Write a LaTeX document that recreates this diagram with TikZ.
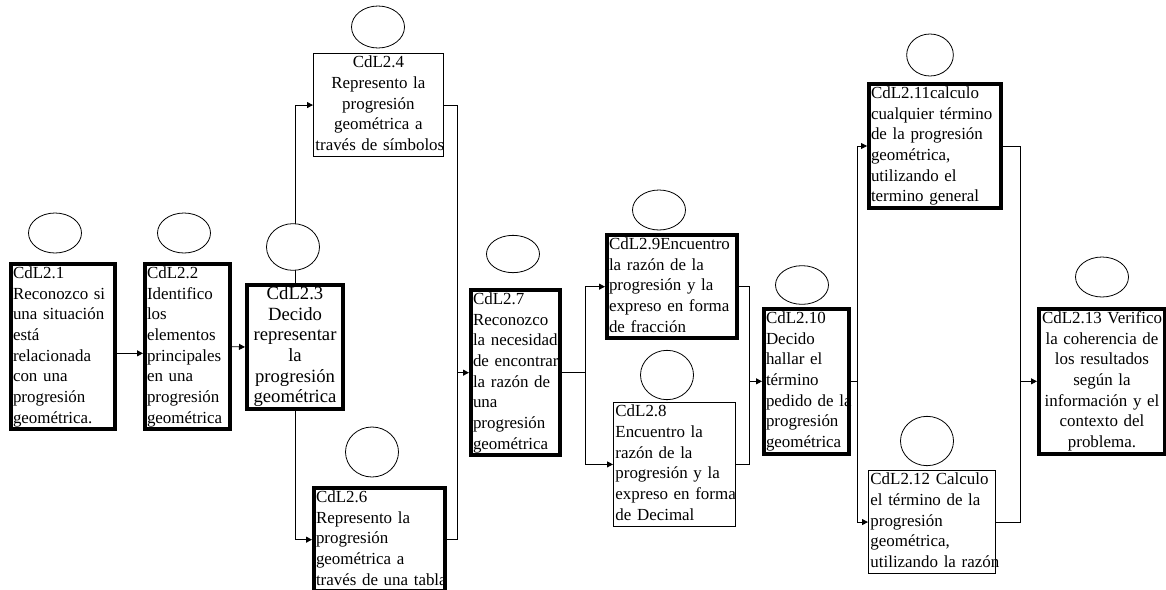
\documentclass[tikz,border=0pt]{standalone}
\usepackage{fontspec}
\setmainfont{Liberation Serif}
\usetikzlibrary{arrows.meta,shapes.geometric}

\tikzset{
  cdl/.style={draw, line width=0.6pt, anchor=north west, inner xsep=1.5pt, inner ysep=0pt,
    align=left, font=\fontsize{12.7}{15.5}\selectfont,
    execute at begin node={\hyphenpenalty=10000\exhyphenpenalty=10000\strut},
    execute at end node=\strut},
  cdlbold/.style={cdl, line width=3pt},
  dot/.style={draw, ellipse, fill=white, line width=0.6pt, minimum width=39.75pt, inner sep=0pt},
  link/.style={line width=0.6pt},
  arr/.style={link, -{Triangle[length=4.5pt,width=4.5pt]}}
}

\begin{document}
\begin{tikzpicture}[x=0.75pt, y=-0.75pt]
  \useasboundingbox (0,0) rectangle (1166,589);
  \coordinate (J1) at (457,0);
  \coordinate (J2) at (585,0);
  \coordinate (J3) at (749,0);
  \coordinate (J4) at (857,0);
  \coordinate (J5) at (1020,0);

  \node[cdlbold, text width=75pt] (B1) at (9,262)
    {CdL2.1\\Reconozco si\\una situación\\está\\relacionada\\con una\\progresión\\geométrica.};
  \node[cdlbold, text width=60.75pt] (B2) at (143,262)
    {CdL2.2\\Identifico\\los\\elementos\\principales\\en una\\progresión\\geométrica};
  \node[cdlbold, text width=69pt, align=center, font=\fontsize{14}{15.5}\selectfont] (B3) at (245,283)
    {CdL2.3\\Decido\\representar\\la\\progresión\\geométrica};
  \node[cdl, text width=94.5pt, align=center] (B4) at (313,53)
    {CdL2.4\\Represento la\\progresión\\geométrica a\\través~de~símbolos};
  \node[cdlbold, text width=95.25pt] (B6) at (312,486)
    {CdL2.6\\Represento la\\progresión\\geométrica a\\través~de~una~tabla};
  \node[cdlbold, text width=63.75pt] (B7) at (469,288)
    {CdL2.7\\Reconozco\\la~necesidad\\de~encontrar\\la razón de\\una\\progresión\\geométrica};
  \node[cdlbold, text width=94.5pt] (B9) at (605,233)
    {CdL2.9Encuentro\\la razón de la\\progresión y la\\expreso~en~forma\\de fracción};
  \node[cdl, text width=88.5pt] (B8) at (613,402)
    {CdL2.8\\Encuentro la\\razón de la\\progresión y la\\expreso~en~forma\\de Decimal};
  \node[cdlbold, text width=60.75pt] (B10) at (762,307)
    {CdL2.10\\Decido\\hallar el\\término\\pedido~de~la\\progresión\\geométrica};
  \node[cdlbold, text width=96pt] (B11) at (867,82)
    {CdL2.11calculo\\cualquier~término\\de la progresión\\geométrica,\\utilizando el\\termino general};
  \node[cdl, text width=92.25pt] (B12) at (868,470)
    {CdL2.12~Calculo\\el término de la\\progresión\\geométrica,\\utilizando~la~razón};
  \node[cdlbold, text width=91.5pt, align=center] (B13) at (1037,307)
    {CdL2.13~Verifico\\la coherencia de\\los resultados\\según la\\información y el\\contexto del\\problema.};

  \draw[arr] ([yshift=-5pt]B1.east) -- ([yshift=-5pt]B2.west);
  \draw[arr] (B2.east) -- (B3.west);
  \draw[arr] (B3.north) |- (B4.west);
  \draw[arr] (B3.south) |- (B6.west);
  \draw[link] (B4.east) -| (J1 |- B6.east) -- (B6.east);
  \draw[arr] (J1 |- B7.west) -- (B7.west);
  \draw[link] (B7.east) -- (J2 |- B7.east);
  \draw[arr] (J2 |- B7.east) |- (B9.west);
  \draw[arr] (J2 |- B7.east) |- (B8.west);
  \draw[link] (B9.east) -| (J3 |- B8.east) -- (B8.east);
  \draw[arr] (J3 |- B10.west) -- (B10.west);
  \draw[link] (B10.east) -- (J4 |- B10.east);
  \draw[arr] (J4 |- B10.east) |- (B11.west);
  \draw[arr] (J4 |- B10.east) |- (B12.west);
  \draw[link] (B11.east) -| (J5 |- B12.east) -- (B12.east);
  \draw[arr] (J5 |- B13.west) -- (B13.west);

  \node[dot, minimum height=30pt] (O1) at (55,233) {};
  \node[dot, minimum height=30pt] (O2) at (184,233) {};
  \node[dot, minimum height=35pt] (O3) at (293,247) {};
  \node[dot, minimum height=31.5pt] (O4) at (378,27) {};
  \node[dot, minimum height=37.5pt] (O6) at (372,452) {};
  \node[dot, minimum height=28pt] (O7) at (513,254) {};
  \node[dot, minimum height=30pt] (O9) at (659,210) {};
  \node[dot, minimum height=37pt] (O8) at (667,375) {};
  \node[dot, minimum height=29pt] (O10) at (802,285) {};
  \node[dot, minimum height=31.5pt, minimum width=35pt] (O11) at (930,55) {};
  \node[dot, minimum height=37pt] (O12) at (927,441) {};
  \node[dot, minimum height=30pt] (O13) at (1102,277) {};
\end{tikzpicture}
\end{document}
